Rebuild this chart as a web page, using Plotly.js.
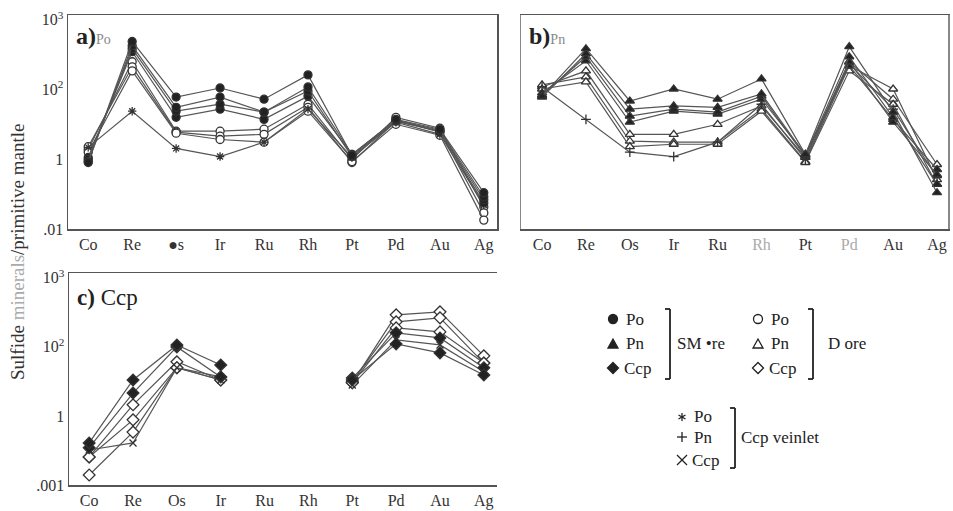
<!DOCTYPE html>
<html>
<head>
<meta charset="utf-8">
<script src="https://cdn.plot.ly/plotly-3.0.1.min.js"></script>
<style>html,body{margin:0;padding:0;background:#fff;}#chart{width:953px;height:511px;}</style>
</head>
<body>
<div id="chart"></div>
<script>
// ---------- data ----------
const elements = ['Co','Re','Os','Ir','Ru','Rh','Pt','Pd','Au','Ag'];
const ticksA = ['Co','Re','●s','Ir','Ru','Rh','Pt','Pd','Au','Ag'];
const ticksB = ['Co','Re','Os','Ir','Ru','<span style="color:#aaa">Rh</span>','Pt','<span style="color:#aaa">Pd</span>','Au','Ag'];
const ticksC = ['Co','Re','Os','Ir','Ru','Rh','Pt','Pd','Au','Ag'];
const yTickVals = [1e4, 1e2, 1, 0.01];
const yTicksA = ['10<sup>3</sup>', '10<sup>2</sup>', '1', '.01'];
const yTicksC = ['10<sup>3</sup>', '10<sup>2</sup>', '1', '.001'];

// a) Po
const smPo1 = [0.81, 2400, 61, 111, 53, 264, 1.29, 14, 7.3, 0.11];
const smPo2 = [0.86, 1820, 31, 61, 22.5, 119, 1.38, 13.2, 6.8, 0.084];
const smPo3 = [0.99, 1490, 24, 38, 22.5, 91, 1.2, 12.4, 6.4, 0.069];
const smPo4 = [1.13, 1220, 16, 27.5, 14, 65, 1.38, 13.2, 6.0, 0.056];
const dPo1 = [1.9, 628, 6.4, 6.4, 7.3, 38, 0.99, 16, 7.8, 0.043];
const dPo2 = [2.3, 450, 6.0, 4.6, 5.2, 31, 0.81, 12.4, 6.4, 0.029];
const dPo3 = [1.6, 345, 5.6, 3.7, 3.1, 24, 0.86, 10.1, 4.9, 0.018];
const vPo = [2.2, 24, 2.05, 1.2, 3.1, 27.5, 1.13, 11.6, 5.2, 0.049];

// b) Pn
const smPn1 = [65, 1490, 47, 104, 53, 202, 1.38, 1703, 22.5, 0.11];
const smPn2 = [61, 1069, 27.5, 34, 31, 75, 1.29, 875, 16, 0.19];
const smPn3 = [70, 875, 17.3, 27.5, 22.5, 65, 1.2, 628, 11.6, 0.36];
const smPn4 = [80, 671, 11.6, 24, 19.7, 53, 1.38, 481, 14, 0.51];
const dPn1 = [119, 345, 5.2, 5.2, 10.1, 34, 1.13, 628, 53, 0.71];
const dPn2 = [136, 231, 3.3, 3.1, 3.1, 27.5, 0.86, 481, 104, 0.26];
const dPn3 = [104, 166, 2.3, 2.7, 2.7, 24, 0.81, 345, 38, 0.19];
const vPn = [119, 14, 1.6, 1.2, 3.1, 38, 0.99, 549, 27.5, 0.30];

// c) Ccp (Ru, Rh not analysed)
const smCcp1 = [0.165, 11, 114, 30, null, null, 11, 122, 67, 15.4];
const smCcp2 = [0.12, 4.6, 100, 13.5, null, null, 12.5, 255, 182, 25];
const dCcp1 = [0.065, 2.1, 37, 11, null, null, 9.1, 847, 1033, 55];
const dCcp2 = [0.0195, 0.34, 25, 13.5, null, null, 10, 531, 693, 34];
const dCcp3 = [0.065, 0.77, 25, 11, null, null, 9.1, 355, 272, 34];
const vCcp = [0.103, 0.165, 25, 11, null, null, 7.9, 160, 114, 19];

// ---------- styles ----------
const LINE = {color: '#555', width: 1.2};
function tr(y, xa, ya, symbol, filled, size) {
  return {
    x: elements, y: y, xaxis: xa, yaxis: ya, type: 'scatter', mode: 'lines+markers',
    connectgaps: false, line: LINE, showlegend: false, hoverinfo: 'skip',
    marker: {symbol: symbol, size: size || 8,
      color: filled ? '#222' : '#fff',
      line: {color: '#333', width: 1.3}}
  };
}
function trOpenSym(y, xa, ya, symbol) {
  return {
    x: elements, y: y, xaxis: xa, yaxis: ya, type: 'scatter', mode: 'lines+markers',
    connectgaps: false, line: LINE, showlegend: false, hoverinfo: 'skip',
    marker: {symbol: symbol, size: 7, color: '#333', line: {color: '#333', width: 1.3}}
  };
}

const data = [
  tr(dPo1,'x','y','circle',false), tr(dPo2,'x','y','circle',false), tr(dPo3,'x','y','circle',false),
  trOpenSym(vPo,'x','y','asterisk-open'),
  tr(smPo4,'x','y','circle',true), tr(smPo3,'x','y','circle',true), tr(smPo2,'x','y','circle',true), tr(smPo1,'x','y','circle',true),

  tr(dPn1,'x2','y2','triangle-up',false), tr(dPn2,'x2','y2','triangle-up',false), tr(dPn3,'x2','y2','triangle-up',false),
  trOpenSym(vPn,'x2','y2','cross-thin-open'),
  tr(smPn4,'x2','y2','triangle-up',true), tr(smPn3,'x2','y2','triangle-up',true), tr(smPn2,'x2','y2','triangle-up',true), tr(smPn1,'x2','y2','triangle-up',true),

  tr(dCcp1,'x3','y3','diamond',false,9), tr(dCcp2,'x3','y3','diamond',false,9), tr(dCcp3,'x3','y3','diamond',false,9),
  trOpenSym(vCcp,'x3','y3','x-thin-open'),
  tr(smCcp2,'x3','y3','diamond',true,9), tr(smCcp1,'x3','y3','diamond',true,9)
];

const W = 953, H = 511;
const px = v => v / W, py = v => 1 - v / H;
const serif = 'Liberation Serif, Times New Roman, serif';
const tickFont = {family: serif, size: 16, color: '#333'};

function xaxis(dom, ticks, anchor, mirror) {
  return {domain: dom, anchor: anchor, type: 'category', categoryorder: 'array', categoryarray: elements,
    range: [-0.46, 9.3], tickmode: 'array', tickvals: elements, ticktext: ticks,
    showgrid: false, zeroline: false, showline: true, linecolor: '#555', linewidth: 1.5,
    mirror: mirror, ticks: '', tickfont: tickFont, fixedrange: true};
}
function yaxis(dom, ticks, anchor, show) {
  return {domain: dom, anchor: anchor, type: 'log', range: [-2, 4.14],
    tickmode: 'array', tickvals: yTickVals, ticktext: ticks, showticklabels: show,
    showgrid: false, zeroline: false, showline: true, linecolor: '#555', linewidth: 1.5,
    mirror: false, ticks: '', tickfont: tickFont, fixedrange: true};
}

const ydomAB = [py(229), py(15)];
const ydomC = [py(485), py(273)];

const ann = [];
function txt(x, y, text, size, anchor, extra) {
  ann.push(Object.assign({xref: 'paper', yref: 'paper', x: px(x), y: py(y), text: text, showarrow: false,
    xanchor: anchor || 'left', yanchor: 'middle', font: {family: serif, size: size, color: '#222'}}, extra || {}));
}
// panel labels
txt(74, 36, '<b>a)</b><span style="font-size:14px;color:#888">Po</span>', 24);
txt(527, 36, '<b>b)</b><span style="font-size:14px;color:#888">Pn</span>', 24);
txt(75, 297, '<b>c)</b> Ccp', 23);
// y axis title
ann.push({xref: 'paper', yref: 'paper', x: px(17), y: py(252), text: 'Sulfide <span style="color:#aaa">minerals</span>/primitive mantle',
  showarrow: false, textangle: -90, xanchor: 'center', yanchor: 'middle', font: {family: serif, size: 19, color: '#333'}});
// legend texts
const lf = 17;
txt(624, 319, 'Po', lf); txt(624, 343, 'Pn', lf); txt(622, 368, 'Ccp', lf);
txt(675, 343, 'SM •re', lf);
txt(769, 319, 'Po', lf); txt(769, 343, 'Pn', lf); txt(767, 368, 'Ccp', lf);
txt(826, 343, 'D ore', lf);
txt(692, 416, 'Po', lf); txt(692, 437, 'Pn', lf); txt(690, 460, 'Ccp', lf);
txt(739, 437, 'Ccp veinlet', lf);

// legend symbols and brackets (decorations in paper space)
const shapes = [];
const ink = '#222';
function seg(x0, y0, x1, y1, w) {
  shapes.push({type: 'line', xref: 'paper', yref: 'paper', x0: px(x0), x1: px(x1), y0: py(y0), y1: py(y1), line: {color: ink, width: w || 1.4}});
}
function circ(cx, cy, r, filled) {
  shapes.push({type: 'circle', xref: 'paper', yref: 'paper', x0: px(cx - r), x1: px(cx + r), y0: py(cy + r), y1: py(cy - r),
    fillcolor: filled ? ink : 'rgba(0,0,0,0)', line: {color: ink, width: 1.3}});
}
function poly(pts, filled) {
  const d = 'M' + pts.map(p => px(p[0]) + ',' + py(p[1])).join('L') + 'Z';
  shapes.push({type: 'path', xref: 'paper', yref: 'paper', path: d,
    fillcolor: filled ? ink : 'rgba(0,0,0,0)', line: {color: ink, width: 1.3}});
}
function tri(cx, cy, s, filled) { poly([[cx - s, cy + s * 0.8], [cx + s, cy + s * 0.8], [cx, cy - s]], filled); }
function dia(cx, cy, s, filled) { poly([[cx, cy - s], [cx + s, cy], [cx, cy + s], [cx - s, cy]], filled); }
function bracket(x, y0, y1) {
  seg(x, y0, x, y1, 1.8); seg(x - 5, y0, x, y0, 1.8); seg(x - 5, y1, x, y1, 1.8);
}
circ(613, 319, 4.5, true); tri(613, 344, 5, true); dia(613, 368, 5.5, true);
circ(758, 319, 4.5, false); tri(758, 344, 5, false); dia(758, 368, 5.5, false);
// asterisk
seg(682, 413, 682, 421, 1.3); seg(678.5, 415, 685.5, 419, 1.3); seg(678.5, 419, 685.5, 415, 1.3);
// plus
seg(677, 437, 687, 437, 1.3); seg(682, 432, 682, 442, 1.3);
// cross
seg(677, 455, 687, 465, 1.3); seg(677, 465, 687, 455, 1.3);
bracket(670, 309, 379);
bracket(813, 309, 379);
bracket(735, 408, 468);

const layout = {
  width: W, height: H, margin: {l: 0, r: 0, t: 0, b: 0},
  paper_bgcolor: '#fff', plot_bgcolor: '#fff', showlegend: false,
  font: {family: serif, color: '#333'},
  xaxis: xaxis([px(68), px(497)], ticksA, 'y', true),
  yaxis: Object.assign(yaxis(ydomAB, yTicksA, 'x', true), {mirror: true}),
  xaxis2: Object.assign(xaxis([px(521), px(948)], ticksB, 'y2', true), {range: [-0.48, 9.25]}),
  yaxis2: Object.assign(yaxis(ydomAB, yTicksA, 'x2', false), {mirror: true, linecolor: '#888'}),
  xaxis3: xaxis([px(69), px(497)], ticksC, 'y3', true),
  yaxis3: yaxis(ydomC, yTicksC, 'x3', true),
  annotations: ann, shapes: shapes
};

Plotly.newPlot('chart', data, layout, {staticPlot: true, displayModeBar: false});
</script>
</body>
</html>
